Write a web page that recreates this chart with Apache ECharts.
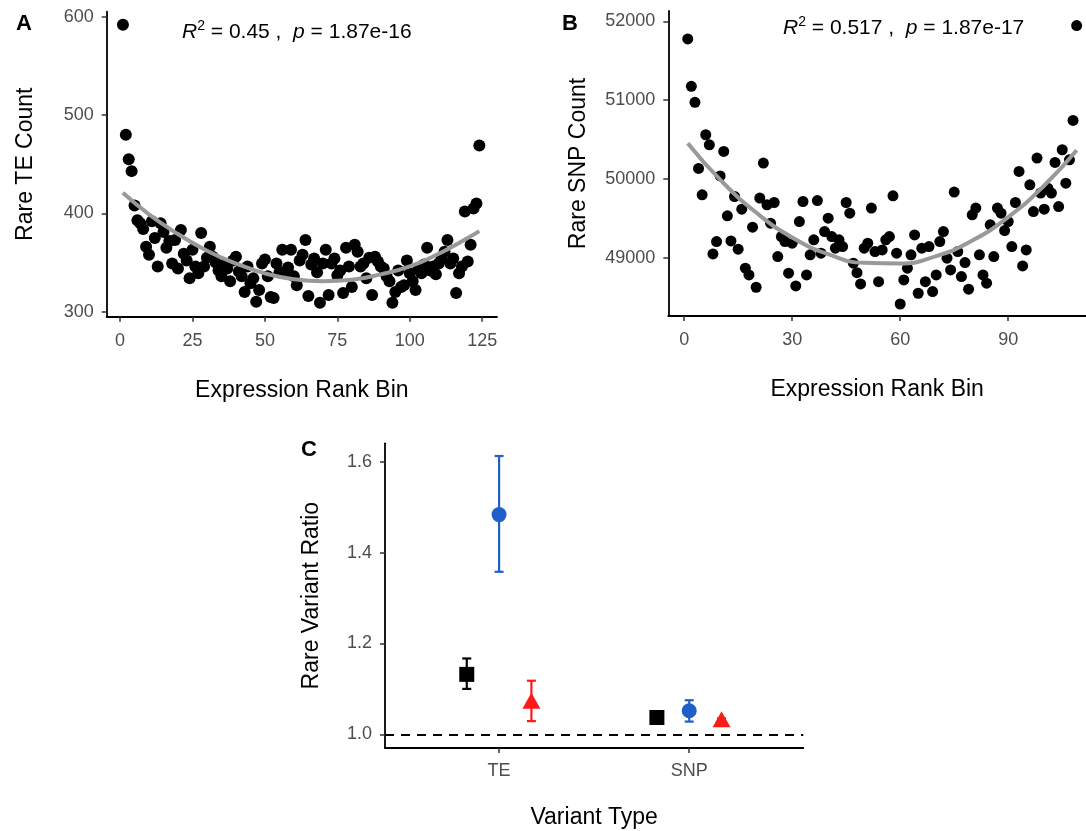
<!DOCTYPE html>
<html>
<head>
<meta charset="utf-8">
<script src="https://cdn.jsdelivr.net/npm/echarts@6/dist/echarts.min.js"></script>
<style>
html,body{margin:0;padding:0;background:#fff;overflow:hidden;}
#c{width:1086px;height:831px;}
</style>
</head>
<body>
<div id="c"></div>
<script>
// ---------- Panel A: Rare TE count per expression rank bin (bins 1..124) ----------
const teCount = [
592,480,455,443,408,393,390,384,366,358,392,375,346,390,381,365,372,349,373,344,
383,359,352,334,363,346,339,380,346,355,366,356,350,342,336,348,344,331,352,356,
341,336,320,346,329,334,310,322,349,353,336,315,314,349,340,363,339,345,363,336,
327,352,358,373,316,348,354,340,309,349,363,317,349,354,337,342,319,365,346,325,
368,361,346,349,334,355,317,356,351,346,344,336,331,309,320,342,325,327,352,339,
331,322,343,339,348,365,342,346,338,349,354,361,373,349,354,319,339,346,402,351,
368,405,410,469
];
const fitA_x = [1,10,20,30,40,50,60,70,80,90,100,110,120,124];
const fitA_y = [421,399,379,362,349,339,333,331,332.5,338,346,359,375,382];
const ticksA_x = [0,25,50,75,100,125];
const ticksA_y = [300,400,500,600];

// ---------- Panel B: Rare SNP count per expression rank bin (bins 1..109) ----------
const snpCount = [
51777,51176,50973,50136,49803,50563,50436,49054,49211,50042,50352,49536,49219,49781,49114,49621,48873,48788,49393,48632,
49761,50205,49676,49444,49705,49020,49274,49211,48810,49190,48649,49464,49718,48788,49042,49232,49730,49063,49337,49507,
49274,49127,49232,49147,49705,49570,48937,48817,48674,49127,49190,49634,49084,48703,49105,49232,49274,49790,49063,48420,
48725,48873,49042,49295,48556,49127,48703,49147,48577,48788,49211,49337,49000,48852,49837,49084,48767,48944,48607,49549,
49634,49042,48788,48683,49422,49020,49634,49570,49350,49464,49147,49705,50098,48902,49105,49929,49591,50268,49824,49621,
49887,49824,50212,49654,50373,49950,50246,50745,51945
];
const fitB_x = [1,10,20,30,40,50,60,70,80,90,100,109];
const fitB_y = [50456,49994,49578,49263,49051,48941,48933,49027,49223,49520,49920,50367];
const ticksB_x = [0,30,60,90];
const ticksB_y = [49000,50000,51000,52000];

// ---------- Panel C: Rare variant ratio ----------
const variantTypes = ['TE','SNP'];
const squareMean = [1.132, 1.037];
const squareLow  = [1.100, 1.034];
const squareHigh = [1.167, 1.040];
const circleMean = [1.484, 1.052];
const circleLow  = [1.358, 1.028];
const circleHigh = [1.613, 1.075];
const triMean    = [1.074, 1.033];
const triLow     = [1.029, 1.031];
const triHigh    = [1.118, 1.035];
const ticksC_y = [1.0, 1.2, 1.4, 1.6];
const refLine = 1.0;

const FONT = 'Liberation Sans, Arial, Helvetica, sans-serif';
const tickColor = '#4d4d4d';
const dodge = [-0.17, 0, 0.17];

function axisCommon(extra){
  return Object.assign({
    axisLine:{show:true, onZero:false, lineStyle:{color:'#000', width:1.8}},
    axisTick:{show:true, length:5, lineStyle:{color:'#333', width:1.5}},
    axisLabel:{color:tickColor, fontSize:18, fontFamily:FONT, margin:13},
    splitLine:{show:false},
    nameTextStyle:{color:'#000', fontSize:23, fontFamily:FONT},
    nameLocation:'middle'
  }, extra);
}
function withCustom(ax, vals, fmt){
  ax.axisTick.customValues = vals;
  ax.axisLabel.customValues = vals;
  ax.axisLabel.formatter = fmt || (v => String(v));
  return ax;
}

const chart = echarts.init(document.getElementById('c'), null, {renderer:'canvas'});

function errRender(color){
  return function(params, api){
    const x = api.value(0), lo = api.value(1), hi = api.value(2);
    const pH = api.coord([x, hi]), pL = api.coord([x, lo]);
    const w = 4.5;
    const st = {stroke:color, lineWidth:2.2};
    return {type:'group', children:[
      {type:'line', shape:{x1:pH[0],y1:pH[1],x2:pL[0],y2:pL[1]}, style:st},
      {type:'line', shape:{x1:pH[0]-w,y1:pH[1],x2:pH[0]+w,y2:pH[1]}, style:st},
      {type:'line', shape:{x1:pL[0]-w,y1:pL[1],x2:pL[0]+w,y2:pL[1]}, style:st}
    ]};
  };
}
function errData(low, high, k){ return variantTypes.map((c,i)=>[i+1+dodge[k], low[i], high[i]]); }
function ptData(mean, k){ return variantTypes.map((c,i)=>[i+1+dodge[k], mean[i]]); }

const xA = withCustom(axisCommon({type:'value', gridIndex:0, min:-4.6, max:130.1, name:'Expression Rank Bin', nameGap:62}), ticksA_x);
const yA = withCustom(axisCommon({type:'value', gridIndex:0, min:294.9, max:605.2, name:'Rare TE Count', nameGap:70}), ticksA_y);
const xB = withCustom(axisCommon({type:'value', gridIndex:1, min:-4.4, max:111.6, name:'Expression Rank Bin', nameGap:62}), ticksB_x);
const yB = withCustom(axisCommon({type:'value', gridIndex:1, min:48268, max:52130, name:'Rare SNP Count', nameGap:78}), ticksB_y);
const xC = withCustom(axisCommon({type:'value', gridIndex:2, min:0.4, max:2.6, name:'Variant Type', nameGap:58}), [1,2], v => variantTypes[Math.round(v)-1] || '');
const yC = withCustom(axisCommon({type:'value', gridIndex:2, min:0.9698, max:1.641, name:'Rare Variant Ratio', nameGap:62}), ticksC_y, v => v.toFixed(1));
xC.axisLabel.margin = 14;
xA.axisLabel.margin = 15;
xB.axisLabel.margin = 15;

const richStat = {
  i:{fontStyle:'italic', fontSize:21, fontFamily:FONT, color:'#000', fontWeight:'normal'},
  n:{fontSize:21, fontFamily:FONT, color:'#000', fontWeight:'normal'},
  sup:{fontSize:14, fontFamily:FONT, color:'#000', fontWeight:'normal', padding:[0,0,12,0]}
};

const option = {
  backgroundColor:'#fff',
  animation:false,
  title:[
    {text:'A', left:11, top:8, textStyle:{fontSize:22, fontWeight:'bold', fontFamily:FONT, color:'#000'}},
    {text:'B', left:557, top:8, textStyle:{fontSize:22, fontWeight:'bold', fontFamily:FONT, color:'#000'}},
    {text:'C', left:296, top:434, textStyle:{fontSize:22, fontWeight:'bold', fontFamily:FONT, color:'#000'}},
    {text:'{i|R}{sup|2}{n| = 0.45 ,  }{i|p}{n| = 1.87e-16}', left:177, top:14, textStyle:{fontWeight:'normal', rich:richStat}},
    {text:'{i|R}{sup|2}{n| = 0.517 ,  }{i|p}{n| = 1.87e-17}', left:778, top:10, textStyle:{fontWeight:'normal', rich:richStat}}
  ],
  grid:[
    {left:106.7, top:11.7, width:390.3, height:305},
    {left:668.3, top:11, width:417.7, height:305},
    {left:385, top:443.3, width:418.3, height:304.7}
  ],
  xAxis:[xA, xB, xC],
  yAxis:[yA, yB, yC],
  series:[
    {type:'scatter', xAxisIndex:0, yAxisIndex:0, symbolSize:12, itemStyle:{color:'#000', opacity:1},
     data: teCount.map((v,i)=>[i+1, v]), z:2},
    {type:'line', xAxisIndex:0, yAxisIndex:0, smooth:true, showSymbol:false, z:3,
     lineStyle:{color:'#999', width:4}, data: fitA_x.map((x,i)=>[x, fitA_y[i]])},
    {type:'scatter', xAxisIndex:1, yAxisIndex:1, symbolSize:11, itemStyle:{color:'#000', opacity:1},
     data: snpCount.map((v,i)=>[i+1, v]), z:2},
    {type:'line', xAxisIndex:1, yAxisIndex:1, smooth:true, showSymbol:false, z:3,
     lineStyle:{color:'#999', width:4}, data: fitB_x.map((x,i)=>[x, fitB_y[i]])},
    // reference line
    {type:'line', xAxisIndex:2, yAxisIndex:2, data:[], silent:true,
     markLine:{symbol:'none', silent:true, label:{show:false},
       lineStyle:{color:'#000', type:[9,7], width:2}, data:[{yAxis:refLine}]}},
    // error bars
    {type:'custom', name:'Group 1 err', xAxisIndex:2, yAxisIndex:2, renderItem:errRender('#000'), data:errData(squareLow, squareHigh, 0), z:3},
    {type:'custom', name:'Group 2 err', xAxisIndex:2, yAxisIndex:2, renderItem:errRender('#1f5fc9'), data:errData(circleLow, circleHigh, 1), z:3},
    {type:'custom', name:'Group 3 err', xAxisIndex:2, yAxisIndex:2, renderItem:errRender('#ff1a1a'), data:errData(triLow, triHigh, 2), z:3},
    // points
    {type:'scatter', name:'Group 1', xAxisIndex:2, yAxisIndex:2, symbol:'rect', symbolSize:15, itemStyle:{color:'#000', opacity:1}, data:ptData(squareMean,0), z:4},
    {type:'scatter', name:'Group 2', xAxisIndex:2, yAxisIndex:2, symbol:'circle', symbolSize:15, itemStyle:{color:'#1f5fc9', opacity:1}, data:ptData(circleMean,1), z:4},
    {type:'scatter', name:'Group 3', xAxisIndex:2, yAxisIndex:2, symbol:'triangle', symbolSize:[18,16], itemStyle:{color:'#ff1a1a', opacity:1}, data:ptData(triMean,2), z:4}
  ]
};
chart.setOption(option);
</script>
</body>
</html>
